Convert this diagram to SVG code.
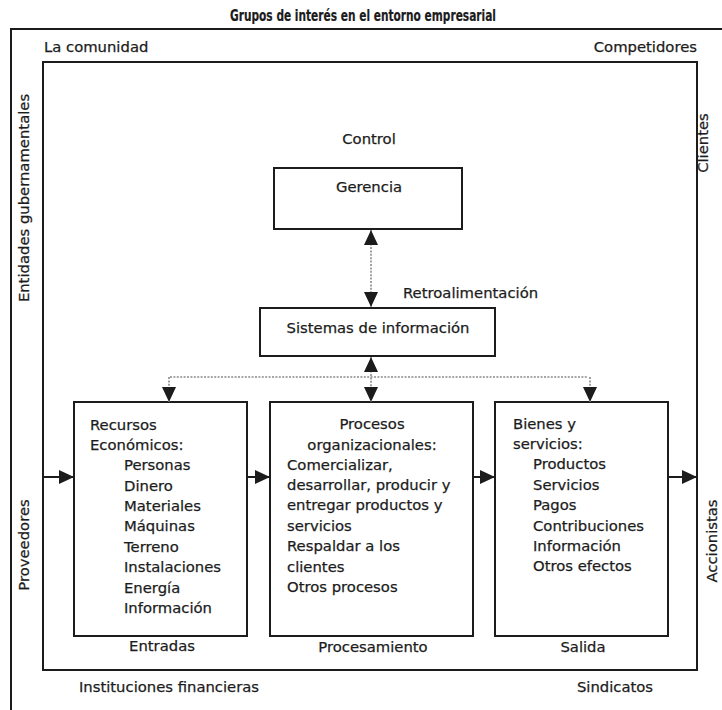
<svg xmlns="http://www.w3.org/2000/svg" width="722" height="710" viewBox="0 0 722 710">
  <style>
    text { font-family: "DejaVu Sans", Verdana, sans-serif; font-size: 14.8px; fill: #1c1c1c; stroke: #1c1c1c; stroke-width: 0.25px; }
    .title { font-weight: bold; font-size: 15px; stroke-width: 0.2px; }
    .mid { text-anchor: middle; }
    .frame { fill: none; stroke: #1c1c1c; stroke-width: 2; }
    .box { fill: #fff; stroke: #1c1c1c; stroke-width: 2; }
    .flow { stroke: #1c1c1c; stroke-width: 2; fill: none; marker-end: url(#head); }
    .dot { stroke: #8a8a8a; stroke-width: 1.6; stroke-dasharray: 2 1.4; fill: none; }
    .dot2 { marker-start: url(#head); marker-end: url(#head); }
    .down { marker-end: url(#head); }
  </style>
  <defs>
    <marker id="head" markerUnits="userSpaceOnUse" markerWidth="15" markerHeight="14" refX="15" refY="7" orient="auto-start-reverse">
      <path d="M0,0 L15,7 L0,14 z" fill="#1c1c1c"/>
    </marker>
  </defs>
  <rect width="722" height="710" fill="#fff"/>

  <text class="title" x="230" y="21" textLength="266" lengthAdjust="spacingAndGlyphs">Grupos de interés en el entorno empresarial</text>

  <!-- environment frames -->
  <g id="entorno">
    <rect class="frame" x="11" y="29" width="724" height="700"/>
    <rect class="frame" x="43" y="62" width="654" height="608"/>
    <text x="44" y="52">La comunidad</text>
    <text x="697" y="52" text-anchor="end">Competidores</text>
    <text class="mid" x="169" y="692">Instituciones financieras</text>
    <text class="mid" x="615" y="692">Sindicatos</text>
    <text class="mid" transform="translate(29,198) rotate(-90)">Entidades gubernamentales</text>
    <text class="mid" transform="translate(29,545) rotate(-90)">Proveedores</text>
    <text class="mid" transform="translate(708,143) rotate(-90)">Clientes</text>
    <text class="mid" transform="translate(717,541) rotate(-90)">Accionistas</text>
  </g>

  <g id="gerencia">
    <text class="mid" x="369" y="144">Control</text>
    <rect class="box" x="274" y="168" width="188" height="61"/>
    <text class="mid" x="369" y="192">Gerencia</text>
  </g>

  <g id="sistemas">
    <rect class="box" x="260" y="308" width="235" height="48"/>
    <text class="mid" x="378" y="333">Sistemas de información</text>
    <text x="403" y="298">Retroalimentación</text>
  </g>

  <g id="entradas">
    <rect class="box" x="74" y="402" width="173" height="234"/>
    <text x="90" y="430">Recursos</text>
    <text x="90" y="450">Económicos:</text>
    <text x="124" y="470">Personas</text>
    <text x="124" y="491">Dinero</text>
    <text x="124" y="511">Materiales</text>
    <text x="124" y="531">Máquinas</text>
    <text x="124" y="552">Terreno</text>
    <text x="124" y="572">Instalaciones</text>
    <text x="124" y="593">Energía</text>
    <text x="124" y="613">Información</text>
    <text class="mid" x="162" y="651">Entradas</text>
  </g>

  <g id="procesamiento">
    <rect class="box" x="270" y="402" width="203" height="234"/>
    <text class="mid" x="372" y="429">Procesos</text>
    <text class="mid" x="372" y="450">organizacionales:</text>
    <text x="287" y="470">Comercializar,</text>
    <text x="287" y="490">desarrollar, producir y</text>
    <text x="287" y="510">entregar productos y</text>
    <text x="287" y="531">servicios</text>
    <text x="287" y="551">Respaldar a los</text>
    <text x="287" y="572">clientes</text>
    <text x="287" y="592">Otros procesos</text>
    <text class="mid" x="373" y="652">Procesamiento</text>
  </g>

  <g id="salida">
    <rect class="box" x="495" y="402" width="173" height="234"/>
    <text x="513" y="429">Bienes y</text>
    <text x="513" y="449">servicios:</text>
    <text x="533" y="469">Productos</text>
    <text x="533" y="490">Servicios</text>
    <text x="533" y="510">Pagos</text>
    <text x="533" y="531">Contribuciones</text>
    <text x="533" y="551">Información</text>
    <text x="533" y="571">Otros efectos</text>
    <text class="mid" x="583" y="652">Salida</text>
  </g>

  <g id="conectores">
    <!-- feedback loop between management and information systems -->
    <line class="dot dot2" x1="371" y1="230" x2="371" y2="307"/>
    <line class="dot dot2" x1="371" y1="357" x2="371" y2="402"/>
    <line class="dot" x1="170" y1="377" x2="588" y2="377"/>
    <line class="dot down" x1="169" y1="377" x2="169" y2="402"/>
    <line class="dot down" x1="590" y1="377" x2="590" y2="402"/>
    <!-- main flow -->
    <line class="flow" x1="44" y1="477" x2="74" y2="477"/>
    <line class="flow" x1="247" y1="477" x2="270" y2="477"/>
    <line class="flow" x1="473" y1="477" x2="495" y2="477"/>
    <line class="flow" x1="668" y1="477" x2="697" y2="477"/>
  </g>
</svg>
